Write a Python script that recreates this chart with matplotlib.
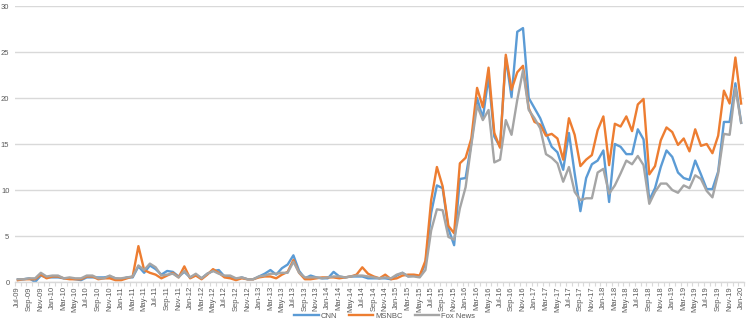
import matplotlib
matplotlib.use("Agg")
import matplotlib.pyplot as plt
import numpy as np
import pandas as pd

# Monthly share of coverage, Jul 2009 - Jan 2020
cnn = [0.3, 0.3, 0.4, 0.0, 0.7, 0.5, 0.5, 0.5, 0.4, 0.4, 0.3, 0.2,
       0.5, 0.5, 0.5, 0.5, 0.6, 0.4, 0.3, 0.5, 0.5, 1.7, 1.0, 1.8,
       1.4, 0.8, 1.2, 1.1, 0.6, 1.1, 0.5, 0.8, 0.4, 0.9, 1.2, 1.3,
       0.6, 0.5, 0.3, 0.5, 0.3, 0.3, 0.6, 0.9, 1.3, 0.8, 1.5, 1.9,
       2.9, 1.2, 0.4, 0.7, 0.5, 0.4, 0.4, 1.1, 0.6, 0.5, 0.6, 0.6,
       0.6, 0.4, 0.4, 0.4, 0.4, 0.3, 0.7, 1.0, 0.6, 0.7, 0.6, 2.0,
       7.5, 10.5, 10.2, 5.8, 4.0, 11.2, 11.3, 15.1, 20.0, 17.8, 22.3, 15.8,
       14.7, 24.4, 20.1, 27.2, 27.6, 20.0, 18.9, 17.8, 16.2, 14.7, 14.1, 12.2,
       16.2, 11.8, 7.7, 11.3, 12.8, 13.2, 14.3, 8.7, 15.0, 14.7, 13.9, 13.9,
       16.6, 15.5, 8.9, 10.2, 12.5, 14.3, 13.6, 11.9, 11.3, 11.1, 13.2, 11.7,
       10.1, 10.1, 12.0, 17.4, 17.4, 21.6, 17.3]

msnbc = [0.2, 0.3, 0.3, 0.3, 0.8, 0.4, 0.6, 0.6, 0.4, 0.3, 0.3, 0.3,
         0.6, 0.6, 0.3, 0.4, 0.4, 0.2, 0.2, 0.4, 0.6, 3.9, 1.3, 1.0,
         0.8, 0.4, 0.7, 1.0, 0.5, 1.7, 0.4, 0.7, 0.3, 0.8, 1.4, 1.0,
         0.5, 0.4, 0.2, 0.4, 0.3, 0.3, 0.5, 0.6, 0.6, 0.4, 0.8, 1.1,
         2.4, 1.0, 0.3, 0.3, 0.4, 0.5, 0.5, 0.5, 0.4, 0.5, 0.6, 0.8,
         1.6, 0.9, 0.6, 0.4, 0.8, 0.3, 0.4, 0.7, 0.8, 0.8, 0.7, 2.3,
         8.9, 12.5, 10.4, 6.1, 5.3, 12.9, 13.5, 15.6, 21.1, 19.0, 23.3, 16.2,
         14.6, 24.7, 20.9, 22.8, 23.5, 18.9, 17.4, 17.1, 15.9, 16.1, 15.6, 13.3,
         17.8, 16.0, 12.6, 13.3, 13.8, 16.5, 18.0, 12.7, 17.2, 16.9, 18.0, 16.4,
         19.3, 19.9, 11.7, 12.6, 15.4, 16.8, 16.3, 14.9, 15.6, 14.2, 16.6, 14.8,
         15.0, 14.0, 15.9, 20.8, 19.4, 24.4, 19.4]

fox = [0.3, 0.3, 0.4, 0.4, 1.0, 0.6, 0.7, 0.7, 0.4, 0.5, 0.4, 0.4,
       0.7, 0.7, 0.4, 0.4, 0.7, 0.4, 0.4, 0.5, 0.6, 1.8, 1.3, 2.0,
       1.6, 0.7, 0.8, 0.9, 0.5, 1.2, 0.5, 0.9, 0.4, 0.9, 1.2, 0.9,
       0.7, 0.7, 0.4, 0.5, 0.3, 0.3, 0.6, 0.7, 0.9, 0.9, 1.0, 1.0,
       2.2, 1.0, 0.5, 0.5, 0.5, 0.4, 0.5, 0.6, 0.6, 0.5, 0.6, 0.7,
       0.7, 0.6, 0.5, 0.4, 0.5, 0.4, 0.8, 1.0, 0.6, 0.6, 0.5, 1.3,
       5.6, 7.9, 7.8, 4.9, 4.6, 8.0, 10.3, 14.9, 19.2, 17.6, 18.7, 13.0,
       13.3, 17.6, 16.0, 19.8, 23.0, 18.7, 17.8, 16.7, 13.9, 13.5, 12.9, 10.9,
       12.5, 9.8, 8.9, 9.1, 9.1, 11.9, 12.3, 9.6, 10.5, 11.8, 13.2, 12.8,
       13.7, 12.7, 8.5, 9.8, 10.7, 10.7, 10.0, 9.7, 10.5, 10.2, 11.6, 11.2,
       9.9, 9.2, 11.8, 16.1, 16.0, 21.1, 17.3]

months = pd.date_range("2009-07-01", periods=len(cnn), freq="MS")
month_labels = [d.strftime("%b-%y") for d in months]

series_names = ["CNN", "MSNBC", "Fox News"]
series_colors = ["#5B9BD5", "#ED7D31", "#A5A5A5"]

plt.rcParams["font.family"] = ["Liberation Sans", "DejaVu Sans"]

fig = plt.figure(figsize=(7.5, 3.25), dpi=100)
ax = fig.add_axes([0.02, 0.1323, 0.972, 0.8492])

x = np.arange(len(cnn))
for vals, name, col in zip([cnn, msnbc, fox], series_names, series_colors):
    ax.plot(x, vals, color=col, lw=1.7, label=name, solid_joinstyle="round")

ax.set_xlim(-0.5, len(cnn) - 0.5)
ax.set_ylim(0, 30)
ax.set_yticks(np.arange(0, 31, 5))
ax.grid(axis="y", color="#D9D9D9", lw=1)
ax.set_axisbelow(True)

for s in ["top", "right", "left"]:
    ax.spines[s].set_visible(False)
ax.spines["bottom"].set_color("#D9D9D9")
ax.spines["bottom"].set_linewidth(1)

# every second month is labelled; small ticks mark month boundaries
ax.set_xticks(x[::2])
ax.set_xticklabels(month_labels[::2], rotation=90, fontsize=5.5, color="#595959")
ax.set_xticks(np.arange(-0.5, len(cnn), 1), minor=True)
ax.tick_params(axis="x", which="major", length=0, pad=3)
ax.tick_params(axis="x", which="minor", length=3, color="#D9D9D9", width=0.8)
ax.tick_params(axis="y", length=0, labelsize=5.5, labelcolor="#595959", pad=4)

leg = fig.legend(loc="lower center", bbox_to_anchor=(0.513, -0.005), ncol=3,
                 frameon=False, fontsize=5.5, handlelength=3.2,
                 columnspacing=1.5, handletextpad=0.3)
for t in leg.get_texts():
    t.set_color("#595959")

fig.savefig("out.png", dpi=100)
